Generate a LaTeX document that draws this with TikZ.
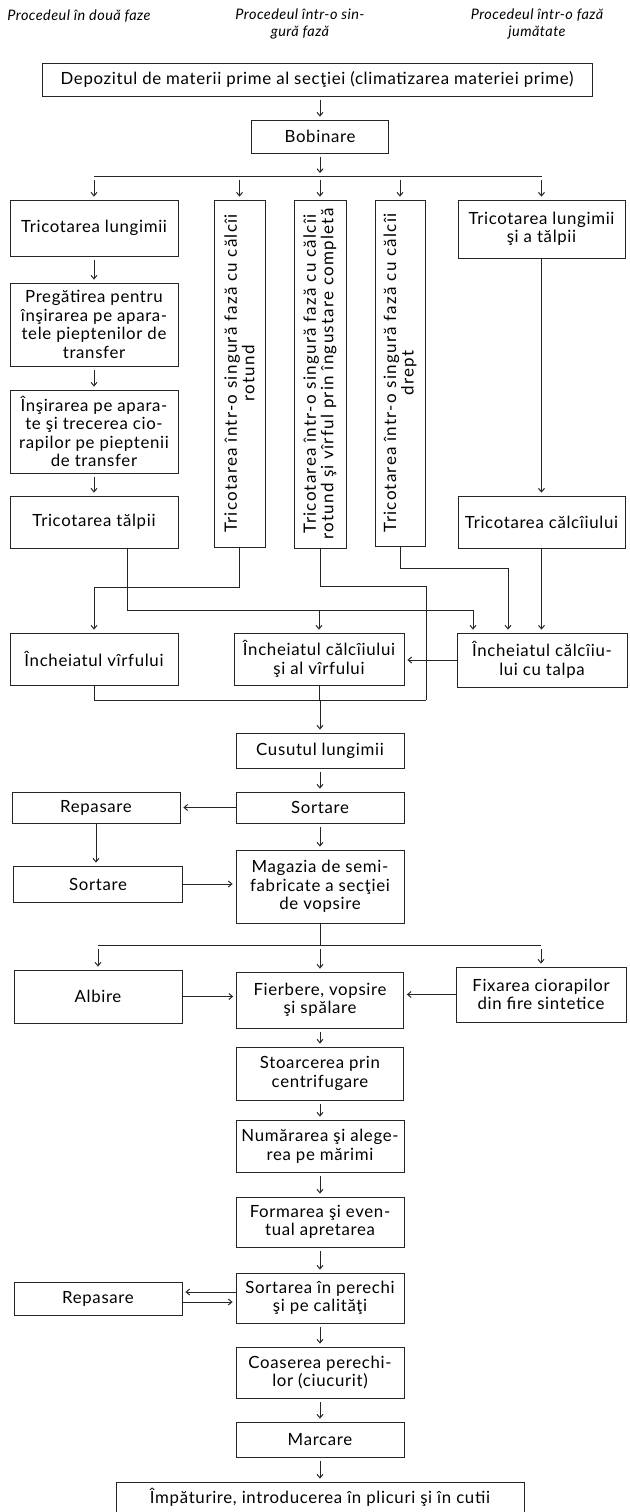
\documentclass[tikz,border=0pt]{standalone}
\usepackage{fontspec}
\setmainfont{Lato}[LetterSpace=4]
\newfontfamily\vfam{Lato}[LetterSpace=7.5]
\newfontfamily\hfam{Lato}[LetterSpace=3]
\usetikzlibrary{arrows.meta}
\newcommand\boxfont{\fontsize{16.8}{18.5}\selectfont}
\newcommand\vfont{\vfam\fontsize{17}{17.5}\selectfont}
\newcommand\hdrfont{\hfam\fontsize{14.5}{17}\selectfont\itshape}
\begin{document}
\begin{tikzpicture}[x=1pt,y=-1pt,
  box/.style={draw=black!85, line width=0.8pt, inner sep=0pt, align=center, font=\boxfont},
  vtext/.style={rotate=90, align=center, font=\vfont, inner sep=0pt},
  hdr/.style={align=center, font=\hdrfont, inner sep=0pt},
  ln/.style={draw=black!85, line width=0.8pt},
  arr/.style={ln, -{Straight Barb[length=3.5pt,width=6pt,line width=1pt]}, shorten >=3pt},
  garr/.style={arr, shorten <=4pt}]
\useasboundingbox (0,0) rectangle (629,1512);

% column headings
\node[hdr] (h1) at (79,16) {Procedeul în două faze};
\node[hdr] (h2) at (300,24) {Procedeul într-o sin-\\gură fază};
\node[hdr] (h3) at (537,24) {Procedeul într-o fază\\jumătate};

% raw material store and winding
\node[box, minimum width=550, minimum height=33] (dep) at (317,79.5) {Depozitul de materii prime al secţiei (climatizarea materiei prime)};
\node[box, minimum width=137, minimum height=33] (bob) at (320,136.5) {Bobinare};

% two-phase knitting column
\node[box, minimum width=168, minimum height=56] (tl) at (94,228) {Tricotarea lungimii};
\node[box, minimum width=168, minimum height=83] (p) at (94,324.5) {Pregătirea pentru\\înşirarea pe apara-\\tele pieptenilor de\\transfer};
\node[box, minimum width=168, minimum height=83] (ins) at (94,431.5) {Înşirarea pe apara-\\te şi trecerea cio-\\rapilor pe pieptenii\\de transfer};
\node[box, minimum width=168, minimum height=52] (tt) at (94,522) {Tricotarea tălpii};

% single-phase knitting (tall boxes with rotated text)
\node[box, minimum width=51, minimum height=347] (v1) at (239.5,373.5) {};
\node[vtext] (v1t) at (v1.center) {Tricotarea într-o singură fază cu călcîi\\rotund};
\node[box, minimum width=52, minimum height=348] (v2) at (320,374) {};
\node[vtext] (v2t) at (v2.center) {Tricotarea într-o singură fază cu călcîi\\rotund şi vîrful prin îngustare completă};
\node[box, minimum width=50, minimum height=346] (v3) at (400,373) {};
\node[vtext] (v3t) at (v3.center) {Tricotarea într-o singură fază cu călcîi\\drept};

% one-and-a-half-phase column
\node[box, minimum width=167, minimum height=58] (tlt) at (541.5,229) {Tricotarea lungimii\\şi a tălpii};
\node[box, minimum width=167, minimum height=52] (tc) at (541.5,522) {Tricotarea călcîiului};

% closing operations
\node[box, minimum width=168, minimum height=52] (iv) at (94,659) {Încheiatul vîrfului};
\node[box, minimum width=170, minimum height=52] (icv) at (319,659) {Încheiatul călcîiului\\şi al vîrfului};
\node[box, minimum width=170, minimum height=54] (ict) at (542,660) {Încheiatul călcîiu-\\lui cu talpa};

% sewing, sorting, storage
\node[box, minimum width=168, minimum height=35] (cus) at (320,750.5) {Cusutul lungimii};
\node[box, minimum width=168, minimum height=31] (sort) at (320,807.5) {Sortare};
\node[box, minimum width=168, minimum height=31] (rep) at (96,807.5) {Repasare};
\node[box, minimum width=168, minimum height=73] (mag) at (320,886.5) {Magazia de semi-\\fabricate a secţiei\\de vopsire};
\node[box, minimum width=169, minimum height=36] (sort2) at (98,884) {Sortare};

% dyeing department
\node[box, minimum width=168, minimum height=53] (alb) at (98,996.5) {Albire};
\node[box, minimum width=167, minimum height=56] (fie) at (320,1000) {Fierbere, vopsire\\şi spălare};
\node[box, minimum width=170, minimum height=55] (fix) at (541,994.5) {Fixarea ciorapilor\\din fire sintetice};
\node[box, minimum width=167, minimum height=53] (sto) at (320,1073.5) {Stoarcerea prin\\centrifugare};
\node[box, minimum width=168, minimum height=52] (num) at (320,1146) {Numărarea şi alege-\\rea pe mărimi};
\node[box, minimum width=168, minimum height=50] (form) at (320,1222) {Formarea şi even-\\tual apretarea};
\node[box, minimum width=168, minimum height=50] (sortp) at (320,1298) {Sortarea în perechi\\şi pe calităţi};
\node[box, minimum width=168, minimum height=33] (rep2) at (98,1298.5) {Repasare};
\node[box, minimum width=168, minimum height=51] (coa) at (320,1372.5) {Coaserea perechi-\\lor (ciucurit)};
\node[box, minimum width=168, minimum height=35] (mar) at (320,1439.5) {Marcare};
\node[box, minimum width=408, minimum height=31] (imp) at (320,1497.5) {Împăturire, introducerea în plicuri şi în cutii};

% junction levels
\coordinate (s1) at (0,176);
\coordinate (yv1) at (0,587);
\coordinate (v2a) at (426,586);
\coordinate (v3a) at (508,568);
\coordinate (ta) at (127,610);
\coordinate (tb) at (473,610);
\coordinate (col) at (0,700);
\coordinate (s2) at (0,945);
\coordinate (ra) at (0,1292);
\coordinate (rb) at (0,1302);

% top part
\draw[garr] (dep.south -| bob.north) -- (bob.north);
\draw[garr] (bob.south) -- (bob.south |- s1);
\draw[ln] (tl |- s1) -- (tlt |- s1);
\foreach \n in {tl,v1,v2,v3,tlt} \draw[garr] (\n |- s1) -- (\n.north);
\draw[garr] (tl.south) -- (p.north);
\draw[garr] (p.south) -- (ins.north);
\draw[garr] (ins.south) -- (tt.north);
\draw[arr] (tlt.south) -- (tc.north);

% routing to the closing operations
\draw[ln] (tt.south -| ta) -- (ta) -- (tb);
\draw[arr] (tb) -- (tb |- ict.north);
\draw[arr] (icv.north |- ta) -- (icv.north);
\draw[arr] (v1.south) -- (v1.south |- yv1) -- (iv.north |- yv1) -- (iv.north);
\draw[ln] (v2.south) -- (v2.south |- v2a) -- (v2a) -- (v2a |- col);
\draw[arr] (v3.south) -- (v3.south |- v3a) -- (v3a) -- (v3a |- ict.north);
\draw[arr] (tc.south) -- (tc.south |- ict.north);
\draw[arr] (ict.west) -- (icv.east |- ict.west);

% collector to sewing
\draw[ln] (iv.south) -- (iv.south |- col) -- (v2a |- col);
\draw[ln] (icv.south) -- (icv.south |- col);
\draw[arr] (cus.north |- col) -- (cus.north);

% sorting and storage
\draw[garr] (cus.south) -- (sort.north);
\draw[arr] (sort.west) -- (rep.east |- sort.west);
\draw[garr] (sort.south) -- (mag.north);
\draw[arr] (rep.south) -- (rep.south |- sort2.north);
\draw[arr] (sort2.east) -- (mag.west |- sort2.east);

% dyeing branch
\draw[ln] (mag.south) -- (mag.south |- s2);
\draw[ln] (alb |- s2) -- (fix |- s2);
\foreach \n in {alb,fie,fix} \draw[garr] (\n |- s2) -- (\n.north);
\draw[arr] (alb.east) -- (fie.west |- alb.east);
\draw[arr] (fix.west) -- (fie.east |- fix.west);

% finishing line
\draw[garr] (fie.south) -- (sto.north);
\draw[garr] (sto.south) -- (num.north);
\draw[garr] (num.south) -- (form.north);
\draw[garr] (form.south) -- (sortp.north);
\draw[arr] (sortp.west |- ra) -- (rep2.east |- ra);
\draw[arr] (rep2.east |- rb) -- (sortp.west |- rb);
\draw[garr] (sortp.south) -- (coa.north);
\draw[garr] (coa.south) -- (mar.north);
\draw[garr] (mar.south) -- (imp.north);
\end{tikzpicture}
\end{document}
